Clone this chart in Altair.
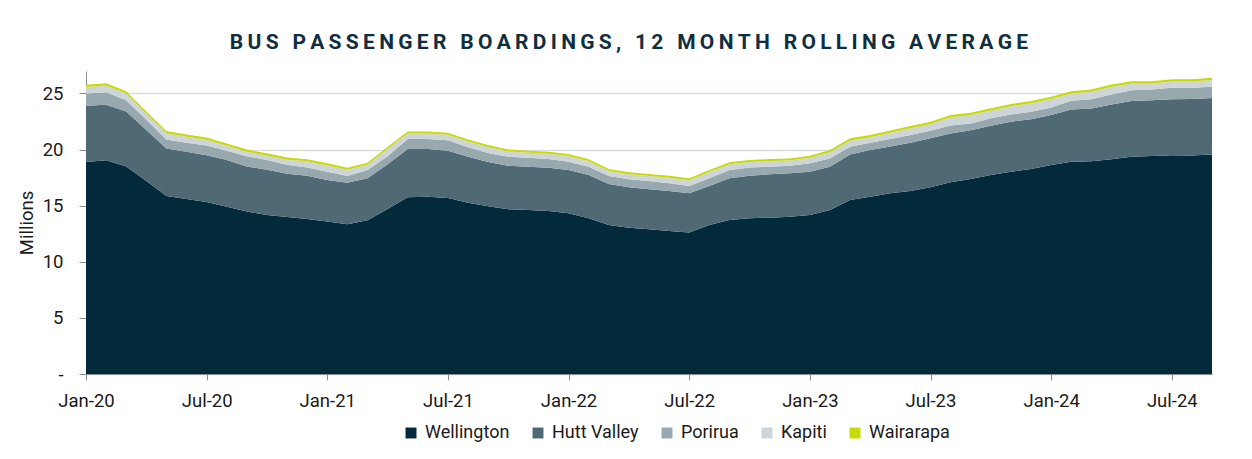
import altair as alt
import pandas as pd

# Month index 0 = Jan-2020 ... 56 = Sep-2024
MONTHS = list(range(57))

WELLINGTON = [18.9, 19.05, 18.5, 17.2, 15.86, 15.6, 15.33, 14.9, 14.47, 14.17,
              14.0, 13.82, 13.58, 13.34, 13.7, 14.7, 15.75, 15.8, 15.68, 15.27,
              14.95, 14.68, 14.62, 14.53, 14.32, 13.88, 13.28, 13.04, 12.9, 12.75,
              12.6, 13.28, 13.73, 13.88, 13.93, 14.02, 14.17, 14.62, 15.5, 15.8,
              16.1, 16.3, 16.63, 17.08, 17.37, 17.73, 18.03, 18.26, 18.62, 18.92,
              18.95, 19.13, 19.36, 19.42, 19.5, 19.48, 19.57]
HUTT_VALLEY = [5.0, 4.95, 4.9, 4.55, 4.24, 4.2, 4.17, 4.17, 4.03, 4.03,
               3.85, 3.85, 3.71, 3.71, 3.74, 4.0, 4.3, 4.25, 4.22, 4.09,
               3.95, 3.88, 3.85, 3.85, 3.86, 3.85, 3.65, 3.6, 3.56, 3.55,
               3.5, 3.47, 3.71, 3.79, 3.86, 3.86, 3.86, 3.85, 4.07, 4.16,
               4.18, 4.3, 4.37, 4.36, 4.36, 4.39, 4.45, 4.45, 4.45, 4.66,
               4.7, 4.89, 4.96, 4.98, 4.99, 5.02, 5.03]
PORIRUA = [1.1, 1.1, 1.0, 0.9, 0.8, 0.8, 0.87, 0.83, 0.9, 0.87,
           0.8, 0.73, 0.74, 0.59, 0.74, 0.7, 0.88, 0.88, 0.92, 0.84,
           0.8, 0.8, 0.8, 0.77, 0.74, 0.74, 0.71, 0.71, 0.74, 0.69,
           0.65, 0.69, 0.74, 0.74, 0.68, 0.68, 0.74, 0.74, 0.68, 0.64,
           0.67, 0.69, 0.68, 0.7, 0.6, 0.66, 0.65, 0.65, 0.68, 0.76,
           0.84, 0.88, 0.97, 0.96, 1.01, 1.0, 0.99]
KAPITI = [0.57, 0.6, 0.6, 0.55, 0.55, 0.55, 0.51, 0.45, 0.4, 0.39,
          0.45, 0.55, 0.56, 0.56, 0.47, 0.67, 0.49, 0.51, 0.5, 0.52,
          0.52, 0.46, 0.45, 0.47, 0.5, 0.48, 0.44, 0.44, 0.44, 0.5,
          0.51, 0.56, 0.5, 0.48, 0.5, 0.47, 0.5, 0.55, 0.55, 0.49,
          0.55, 0.6, 0.6, 0.73, 0.75, 0.69, 0.72, 0.76, 0.75, 0.66,
          0.67, 0.7, 0.6, 0.53, 0.57, 0.57, 0.6]
WAIRARAPA = [0.2, 0.2, 0.2, 0.2, 0.2, 0.2, 0.2, 0.2, 0.2, 0.2,
             0.2, 0.18, 0.18, 0.18, 0.18, 0.18, 0.18, 0.18, 0.18, 0.18,
             0.18, 0.18, 0.18, 0.18, 0.18, 0.18, 0.18, 0.18, 0.18, 0.18,
             0.18, 0.18, 0.18, 0.18, 0.18, 0.18, 0.18, 0.2, 0.2, 0.2,
             0.2, 0.2, 0.2, 0.2, 0.2, 0.2, 0.2, 0.2, 0.2, 0.2,
             0.2, 0.2, 0.2, 0.2, 0.2, 0.2, 0.2]

SERIES = ["Wellington", "Hutt Valley", "Porirua", "Kapiti", "Wairarapa"]
COLORS = ["#022A3A", "#4F6A75", "#97A8AF", "#CDD5D9", "#C9DA00"]
TICK_MONTHS = [0, 6, 12, 18, 24, 30, 36, 42, 48, 54]
TICK_LABELS = ["Jan-20", "Jul-20", "Jan-21", "Jul-21", "Jan-22", "Jul-22",
               "Jan-23", "Jul-23", "Jan-24", "Jul-24"]
Y_TICKS = [0, 5, 10, 15, 20, 25]
TITLE = "BUS PASSENGER BOARDINGS, 12 MONTH ROLLING AVERAGE"

values = [WELLINGTON, HUTT_VALLEY, PORIRUA, KAPITI, WAIRARAPA]
rows = []
for si, (name, vals) in enumerate(zip(SERIES, values)):
    for m, v in zip(MONTHS, vals):
        rows.append({"month": m, "series": name, "value": v, "ord": si})
df = pd.DataFrame(rows)

label_expr = "[" + ",".join("'%s'" % t for t in TICK_LABELS) + "][round(datum.value/6)]"

FONT = "Roboto"
# emulate the wide letter tracking of the original title with hair spaces
spaced_title = "\u200a\u200a".join(TITLE)

W, H = 1126, 303

chart = alt.Chart(df).mark_area(interpolate="linear").encode(
    x=alt.X("month:Q",
            scale=alt.Scale(domain=[0, 56], nice=False, zero=False),
            axis=alt.Axis(values=TICK_MONTHS, labelExpr=label_expr, title=None,
                          grid=False, domainColor="#8C8C8C", tickColor="#8C8C8C",
                          tickSize=6, labelFontSize=18.5, labelColor="#1A1A1A",
                          labelFont=FONT, labelPadding=11, labelFlush=False)),
    y=alt.Y("value:Q", stack="zero",
            scale=alt.Scale(domain=[0, 27], nice=False),
            axis=alt.Axis(values=Y_TICKS,
                          labelExpr="datum.value == 0 ? '-\u00a0\u00a0' : datum.value",
                          title="Millions", titleFontSize=18.5, titleFont=FONT,
                          titleFontWeight="normal", titleColor="#1A1A1A",
                          titlePadding=6,
                          grid=True, gridColor="#D9DDE0", gridWidth=1.5,
                          domainColor="#8C8C8C", tickColor="#8C8C8C", tickSize=7,
                          labelFontSize=18.5, labelColor="#1A1A1A", labelFont=FONT,
                          labelPadding=16)),
    color=alt.Color("series:N",
                    scale=alt.Scale(domain=SERIES, range=COLORS),
                    legend=alt.Legend(title=None, orient="none", direction="horizontal",
                                      legendX=316, legendY=353,
                                      symbolType="square", symbolSize=120,
                                      symbolStrokeWidth=0,
                                      labelFontSize=18, labelFont=FONT,
                                      labelColor="#1A1A1A", columnPadding=19,
                                      labelOffset=5)),
    order=alt.Order("ord:Q", sort="ascending"),
).properties(
    width=W,
    height=H,
    title=alt.TitleParams(spaced_title,
                          font=FONT, fontSize=21, fontWeight="bold",
                          color="#0F2F3F", anchor="middle", offset=18, dx=-20),
    autosize=alt.AutoSizeParams(type="none"),
    padding={"left": 78, "top": 63, "right": 30, "bottom": 72},
).configure_view(stroke=None)

chart.save("out.html", embed_options={"renderer": "svg", "actions": False})
